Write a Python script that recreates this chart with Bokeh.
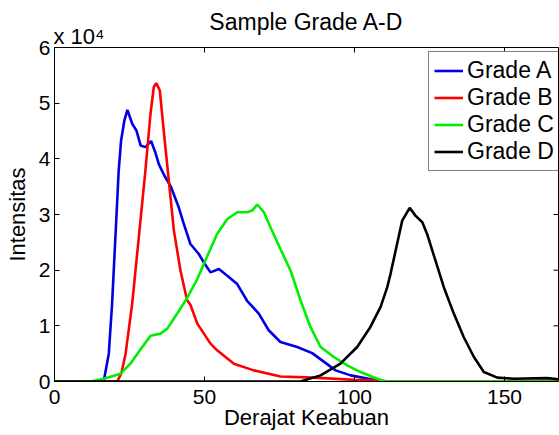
import math
from bokeh.plotting import figure
from bokeh.models import FixedTicker, Legend, LegendItem, Title
from bokeh.embed import file_html
from bokeh.resources import INLINE

# ---- data (intensity in units of 10^4) ----
x_a = [0, 16.4, 18.1, 19.2, 20.3, 21.4, 22.2, 23.3, 24.3, 25.9, 27.3, 28.7, 30.3, 32.2, 33.7,
       34.8, 36.6, 38.8, 41.4, 43.1, 45.3, 48.1, 50.0, 52.0, 54.8, 57.6, 60.9, 64.2, 68.1,
       71.4, 75.3, 80.9, 85.9, 89.2, 93.7, 98.7, 106.4, 111, 168]
y_a = [0, 0, 0.50, 1.40, 2.59, 3.79, 4.33, 4.69, 4.88, 4.63, 4.51, 4.24, 4.21, 4.32, 4.10,
       3.90, 3.70, 3.50, 3.13, 2.83, 2.47, 2.29, 2.12, 1.96, 2.02, 1.90, 1.75, 1.45, 1.22,
       0.92, 0.71, 0.62, 0.51, 0.38, 0.20, 0.11, 0.03, 0, 0]

x_b = [0, 20.9, 22.3, 23.7, 25.9, 28.1, 30.3, 32.0, 33.1, 33.9, 35.1, 36.4, 38.1, 39.8, 42.0,
       44.2, 45.3, 47.6, 49.8, 52.0, 54.2, 59.8, 66.4, 75.3, 86.4, 100, 106.4, 110, 168]
y_b = [0, 0, 0.15, 0.50, 1.40, 2.59, 3.79, 4.81, 5.29, 5.36, 5.23, 4.51, 3.61, 2.71, 1.99,
       1.46, 1.38, 1.04, 0.86, 0.68, 0.56, 0.32, 0.20, 0.09, 0.07, 0.03, 0.02, 0, 0]

x_c = [0, 12, 16.4, 22.0, 25.3, 28.7, 32.0, 35.3, 37.6, 40.9, 44.2, 47.6, 50.9, 54.2, 57.6,
       60.9, 64.2, 65.9, 67.6, 69.8, 72.0, 75.3, 78.7, 82.0, 85.3, 88.7, 93.1, 97.6, 102.0,
       107.6, 110.5, 168]
y_c = [0, 0, 0.05, 0.14, 0.32, 0.58, 0.82, 0.86, 0.95, 1.22, 1.50, 1.84, 2.25, 2.65, 2.92,
       3.04, 3.04, 3.07, 3.18, 3.04, 2.77, 2.38, 1.99, 1.46, 0.98, 0.62, 0.44, 0.29, 0.17,
       0.05, 0, 0]

x_d = [0, 82, 88.7, 95.3, 100.9, 105.3, 108.7, 110.9, 112.0, 113.7, 115.9, 118.4, 120.3,
       122.6, 124.2, 127.0, 129.8, 133.1, 136.4, 139.8, 143.1, 147.6, 153.1, 164.2, 168]
y_d = [0, 0, 0.11, 0.32, 0.62, 0.98, 1.34, 1.69, 1.93, 2.35, 2.89, 3.12, 2.98,
       2.86, 2.65, 2.17, 1.69, 1.22, 0.80, 0.44, 0.17, 0.07, 0.05, 0.06, 0.04]

labels = ["Grade A", "Grade B", "Grade C", "Grade D"]
colors = ["#0000e6", "#ff0000", "#00ee00", "#000000"]
x_ticks = [0, 50, 100, 150]
y_ticks = [0, 1, 2, 3, 4, 5, 6]
x_lim = (0, 168)
y_lim = (0, 6)

FONT = "Liberation Sans"
FS = "22px"
AFS = "21px"

p = figure(width=559, height=435, x_range=x_lim, y_range=y_lim,
           output_backend="svg", toolbar_location=None,
           min_border_left=54, min_border_right=1, min_border_top=47, min_border_bottom=54)
p.grid.visible = False
p.outline_line_color = "black"
p.outline_line_width = 1

# multiplier text, just above the top-left corner of the box
p.add_layout(Title(text="x 10\u2074", align="left", offset=-1, standoff=-2,
                   text_font=FONT, text_font_size=FS, text_font_style="normal",
                   text_color="black"), "above")

p.title.text = "Sample Grade A-D"
p.title.align = "center"
p.title.text_font = FONT
p.title.text_font_size = "23px"
p.title.text_font_style = "normal"
p.title.text_color = "black"
p.title.standoff = -24

for ax in (p.xaxis[0], p.yaxis[0]):
    ax.major_tick_in = 5
    ax.major_tick_out = 0
    ax.minor_tick_line_color = None
    ax.major_label_text_font = FONT
    ax.major_label_text_font_size = AFS
    ax.major_label_text_color = "black"
    ax.axis_label_text_font = FONT
    ax.axis_label_text_font_size = FS
    ax.axis_label_text_font_style = "normal"
    ax.axis_label_text_color = "black"
    ax.axis_line_color = "black"
    ax.major_tick_line_color = "black"

p.xaxis.ticker = FixedTicker(ticks=x_ticks)
p.yaxis.ticker = FixedTicker(ticks=y_ticks)
p.xaxis.axis_label = "Derajat Keabuan"
p.yaxis.axis_label = "Intensitas"
p.xaxis.major_label_standoff = 8
p.xaxis.axis_label_standoff = -2
p.yaxis.major_label_standoff = 4
p.yaxis.axis_label_standoff = 6

# inward ticks on top and right edges of the box (half of each dash is clipped by the frame)
p.scatter(x_ticks, [y_lim[1]] * len(x_ticks), marker="dash", size=10, angle=math.pi / 2,
          line_color="black", line_width=1)
p.scatter([x_lim[1]] * len(y_ticks), y_ticks, marker="dash", size=10,
          line_color="black", line_width=1)

renderers = []
for xs, ys, c in zip([x_a, x_b, x_c, x_d], [y_a, y_b, y_c, y_d], colors):
    r = p.line(xs, ys, line_color=c, line_width=2.6)
    renderers.append(r)

legend = Legend(items=[LegendItem(label=l, renderers=[r]) for l, r in zip(labels, renderers)],
                location=(374, 210), label_text_font=FONT, label_text_font_size="23px",
                label_text_color="black",
                glyph_width=29, glyph_height=27, label_height=27, label_width=87,
                label_standoff=4, spacing=0, padding=5,
                border_line_color="black", border_line_width=1,
                background_fill_color="white", background_fill_alpha=1)
p.add_layout(legend, "center")

open("out.html", "w").write(file_html(p, INLINE))
